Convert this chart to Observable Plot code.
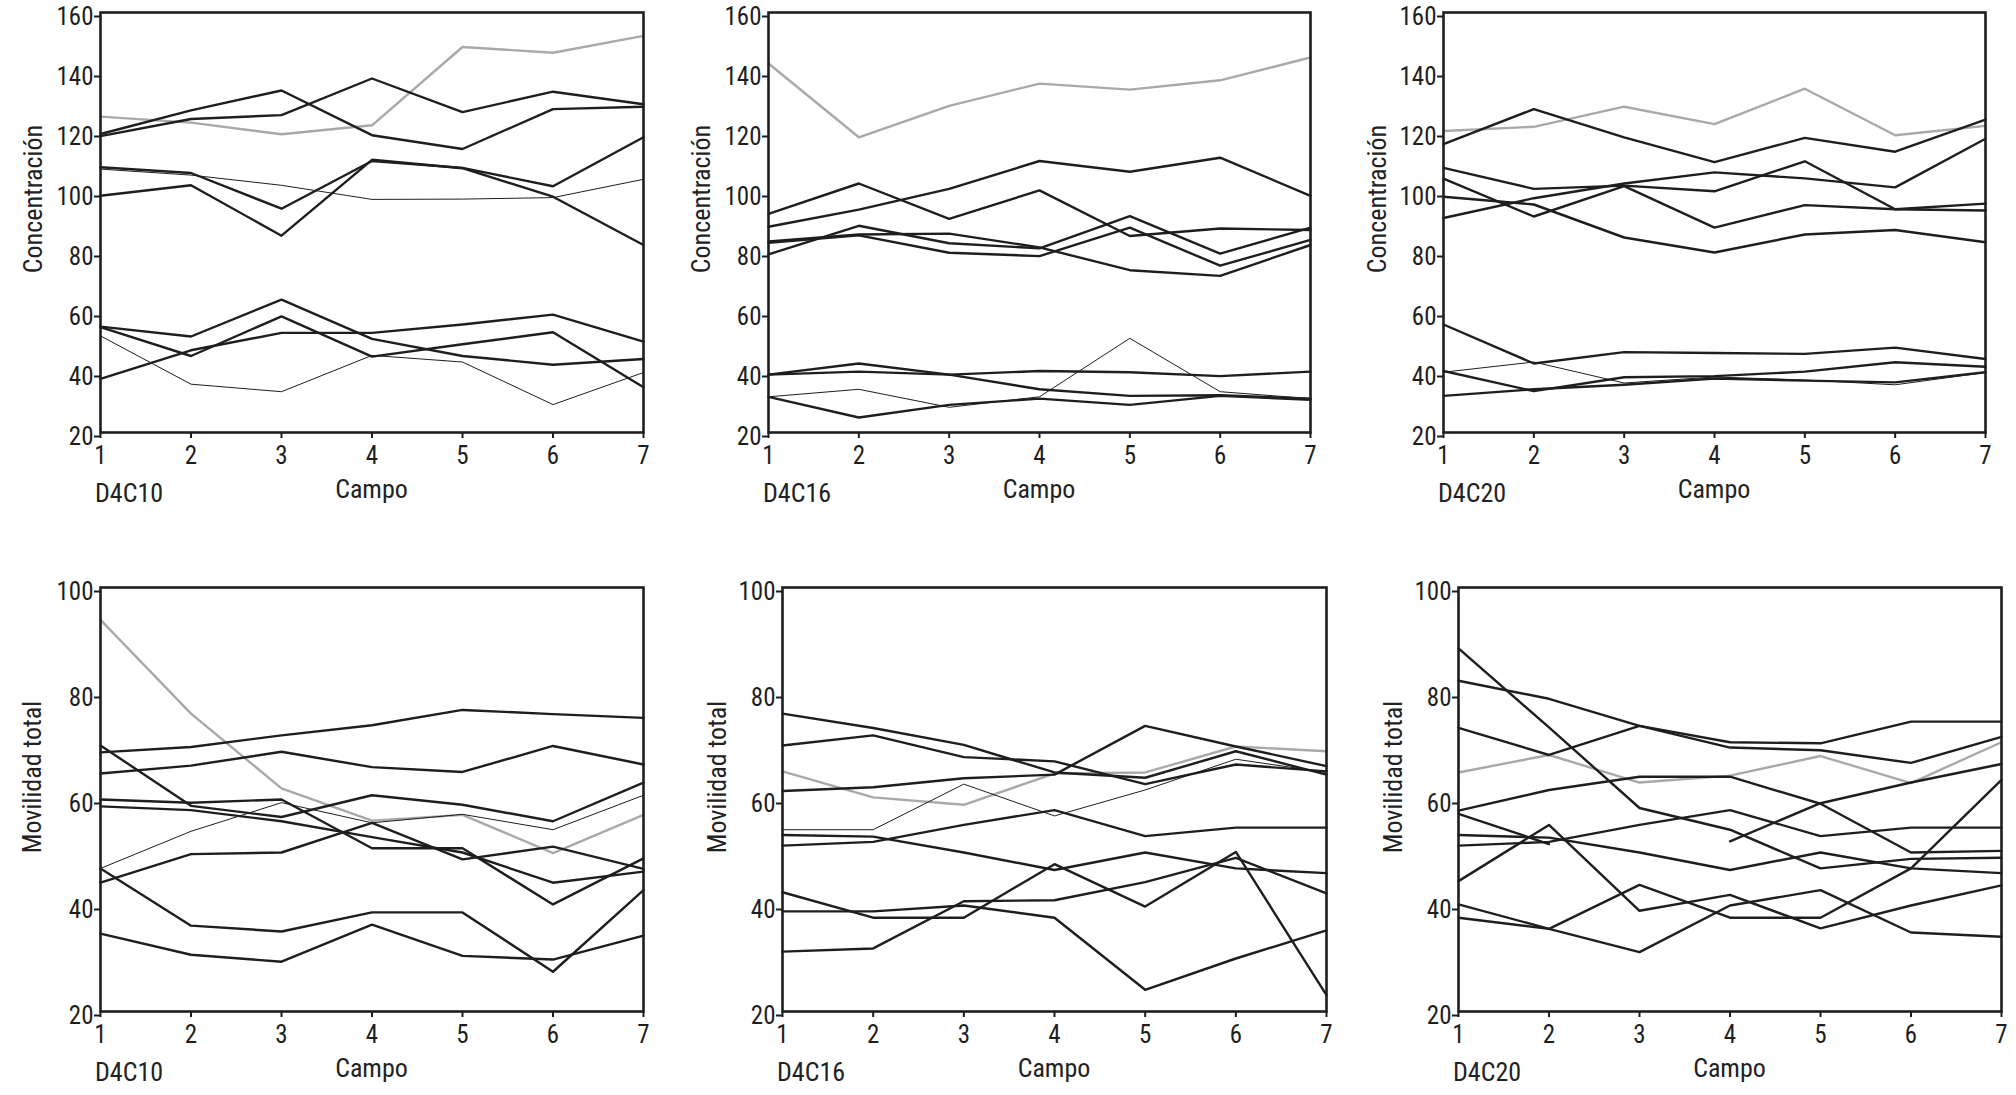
<!DOCTYPE html>
<html>
<head>
<meta charset="utf-8">
<script src="https://cdn.jsdelivr.net/npm/d3@7"></script>
<script src="https://cdn.jsdelivr.net/npm/@observablehq/plot@0.6"></script>
<style>
  html, body { margin: 0; padding: 0; background: #fff; }
  #root { position: relative; width: 2016px; height: 1095px; background: #fff; overflow: hidden;
          font-family: 'Liberation Sans Narrow', 'Roboto Condensed', 'DejaVu Sans Condensed', 'Liberation Sans', sans-serif; color: #222; }
  .lbl { position: absolute; font-size: 26px; white-space: nowrap; line-height: 1; }
</style>
</head>
<body>
<div id="root"></div>
<script>
// ---------- data ----------
const campos = [1, 2, 3, 4, 5, 6, 7];
const concTicks = [20, 40, 60, 80, 100, 120, 140, 160];
const movTicks = [20, 40, 60, 80, 100];
const panelNames = ["D4C10", "D4C16", "D4C20"];

// Concentración D4C10
const conc10Gray = [[125.3, 123.3, 119.4, 122.4, 148.5, 146.6, 152.2]];
const conc10Thin = [
  [107.8, 105.8, 102.4, 97.7, 97.8, 98.3, 104.4],
  [52.2, 36.1, 33.6, 45.7, 43.5, 29.3, 40.0]
];
const conc10Black = [
  [119.5, 127.4, 134.0, 119.1, 114.5, 127.8, 128.6],
  [118.8, 124.5, 125.8, 138.0, 126.8, 133.6, 129.4],
  [108.4, 106.5, 94.6, 110.5, 108.2, 102.1, 118.4],
  [98.9, 102.4, 85.6, 110.9, 108.1, 98.6, 82.5],
  [55.3, 52.0, 64.3, 51.2, 45.5, 42.6, 44.5],
  [55.1, 45.5, 58.7, 45.3, 49.4, 53.4, 35.1],
  [37.9, 47.4, 53.2, 53.2, 56.0, 59.3, 50.3]
];

// Concentración D4C16
const conc16Gray = [[143.0, 118.4, 128.9, 136.3, 134.3, 137.4, 145.0]];
const conc16Thin = [[31.9, 34.4, 28.4, 31.9, 51.4, 33.6, 31.3]];
const conc16Black = [
  [92.9, 103.0, 91.2, 100.7, 85.5, 88.0, 87.5],
  [88.6, 94.3, 101.2, 110.5, 106.9, 111.6, 98.9],
  [83.7, 86.0, 86.3, 81.7, 74.1, 72.2, 82.5],
  [79.4, 88.9, 83.1, 81.4, 92.1, 79.6, 88.3],
  [83.2, 85.7, 79.9, 78.8, 88.3, 75.6, 84.2],
  [39.3, 43.0, 39.3, 34.4, 32.2, 32.4, 31.3],
  [39.3, 40.3, 39.3, 40.5, 40.1, 38.8, 40.3],
  [31.9, 25.0, 29.2, 31.3, 29.2, 32.2, 30.9]
];

// Concentración D4C20
const conc20Gray = [[120.5, 121.9, 128.6, 122.8, 134.6, 119.1, 122.2]];
const conc20Thin = [[40.1, 43.5, 36.5, 38.5, 37.5, 35.9, 40.0]];
const conc20Black = [
  [116.1, 127.8, 118.4, 110.1, 118.2, 113.6, 124.3],
  [108.2, 101.2, 102.3, 100.4, 110.4, 94.4, 94.0],
  [98.6, 96.0, 85.0, 80.0, 86.0, 87.5, 83.4],
  [104.6, 92.0, 102.1, 88.3, 95.8, 94.4, 96.3],
  [91.5, 98.1, 103.0, 106.7, 104.7, 101.7, 117.9],
  [56.0, 43.0, 46.8, 46.5, 46.2, 48.3, 44.5],
  [40.5, 33.8, 38.4, 38.8, 40.3, 43.4, 41.9],
  [32.2, 34.4, 35.9, 38.0, 37.3, 36.7, 40.1]
];

// Movilidad total D4C10
const mov10Gray = [[93.9, 76.2, 62.1, 56.0, 57.1, 49.9, 57.1]];
const mov10Thin = [[47.0, 54.0, 59.4, 55.6, 57.2, 54.3, 60.8]];
const mov10Black = [
  [68.9, 69.9, 72.1, 74.0, 76.9, 76.1, 75.4],
  [64.9, 66.4, 69.0, 66.1, 65.2, 70.1, 66.6],
  [60.0, 59.4, 60.0, 50.8, 50.8, 40.2, 48.9],
  [58.7, 58.0, 55.9, 52.9, 50.0, 44.3, 46.4],
  [70.2, 58.8, 56.7, 60.8, 59.0, 55.9, 63.2],
  [44.3, 49.7, 50.0, 55.6, 48.7, 51.1, 46.9],
  [47.0, 36.2, 35.1, 38.7, 38.7, 27.5, 42.9],
  [34.7, 30.7, 29.4, 36.4, 30.5, 29.8, 34.3]
];

// Movilidad total D4C16
const mov16Gray = [[65.3, 60.4, 59.0, 64.9, 65.1, 70.0, 69.1]];
const mov16Thin = [[54.3, 54.3, 62.9, 56.9, 61.8, 67.6, 65.1]];
const mov16Black = [
  [76.2, 73.5, 70.3, 65.1, 64.1, 69.1, 64.7],
  [70.2, 72.1, 68.0, 67.2, 62.9, 66.6, 65.3],
  [61.6, 62.3, 64.0, 64.7, 73.9, 70.0, 66.3],
  [53.3, 53.0, 50.0, 46.7, 50.0, 47.0, 46.1],
  [51.3, 52.0, 55.2, 58.0, 53.1, 54.7, 54.7],
  [42.5, 37.7, 37.7, 47.8, 39.8, 50.1, 23.1],
  [38.9, 38.9, 40.0, 37.7, 24.1, 30.0, 35.3],
  [31.3, 31.9, 40.8, 41.0, 44.4, 49.0, 42.3]
];

// Movilidad total D4C20
const mov20Gray = [[65.1, 68.4, 63.2, 64.5, 68.2, 63.1, 70.8]];
const mov20Thin = [];
const mov20Black = [
  [88.5, 73.6, 58.4, 54.3, 47.0, 48.8, 49.0],
  [82.4, 79.0, 73.9, 69.8, 69.3, 66.9, 71.8],
  [73.5, 68.4, 73.9, 70.8, 70.6, 74.7, 74.7],
  [57.9, 61.8, 64.3, 64.3, 59.2, 50.0, 50.3],
  [57.3, 51.6, null, 52.1, 59.3, 63.2, 66.7],
  [53.3, 52.8, 50.0, 46.7, 50.0, 47.0, 46.1],
  [51.3, 52.0, 55.2, 58.0, 53.1, 54.7, 54.7],
  [44.6, 55.2, 39.0, 42.0, 35.7, 40.0, 43.8],
  [40.2, 35.6, 31.2, 40.0, 42.9, 34.9, 34.1],
  [37.7, 35.6, 43.9, 37.7, 37.7, 47.0, 63.7]
];

// ---------- drawing ----------
const root = document.getElementById("root");
const ink = "#1e1e1e";
const fontFamily = "'Liberation Sans Narrow', 'Roboto Condensed', 'DejaVu Sans Condensed', 'Liberation Sans', sans-serif";

function rows(seriesList) {
  const out = [];
  seriesList.forEach((s, i) => s.forEach((v, j) => out.push({x: campos[j], y: v, s: i})));
  return out;
}

function label(text, x, y, opts = {}) {
  const d = document.createElement("div");
  d.className = "lbl";
  d.textContent = text;
  d.style.left = x + "px";
  d.style.top = y + "px";
  const tx = opts.anchor === "start" ? "0" : "-50%";
  d.style.transform = `translate(${tx}, -50%)` + (opts.rotate ? ` rotate(${opts.rotate}deg)` : "");
  root.appendChild(d);
}

function panel(box, ydomain, yticks, gray, thin, black, ytitle, name) {
  const mL = 110, mR = 20, mT = 12, mB = 60;
  const width = box.right - box.left + mL + mR;
  const height = box.bottom - box.top + mT + mB;
  const chart = Plot.plot({
    width, height,
    marginLeft: mL, marginRight: mR, marginTop: mT, marginBottom: mB,
    style: {fontFamily, fontSize: "25px", color: ink, background: "transparent", overflow: "visible"},
    x: {domain: [1, 7]},
    y: {domain: ydomain},
    marks: [
      Plot.axisX({ticks: campos, tickFormat: d => String(d), tickSize: 6, tickPadding: 8, label: null, strokeWidth: 2, stroke: ink, fill: ink}),
      Plot.axisY({ticks: yticks, tickFormat: d => String(d), tickSize: 6, tickPadding: 1, dy: 4, label: null, strokeWidth: 2, stroke: ink, fill: ink}),
      Plot.line(rows(gray), {x: "x", y: "y", z: "s", stroke: "#a9a9a9", strokeWidth: 2.4, curve: "linear"}),
      Plot.line(rows(black), {x: "x", y: "y", z: "s", stroke: ink, strokeWidth: 2.4, curve: "linear"}),
      Plot.line(rows(thin), {x: "x", y: "y", z: "s", stroke: ink, strokeWidth: 1, curve: "linear"}),
      Plot.frame({stroke: ink, strokeWidth: 2.6})
    ]
  });
  chart.style.position = "absolute";
  chart.style.left = (box.left - mL) + "px";
  chart.style.top = (box.top - mT) + "px";
  root.appendChild(chart);

  // titles
  label(ytitle, box.titleX, box.titleY, {rotate: -90});
  label("Campo", (box.left + box.right) / 2, box.bottom + 57);
  label(name, box.left - 5, box.bottom + 61, {anchor: "start"});
}

const topBoxes = [
  {left: 100, right: 643, top: 12, bottom: 432, titleX: 33, titleY: 199},
  {left: 768, right: 1310, top: 12, bottom: 432, titleX: 701, titleY: 199},
  {left: 1443, right: 1985, top: 12, bottom: 432, titleX: 1377, titleY: 199}
];
const bottomBoxes = [
  {left: 100, right: 643, top: 587, bottom: 1011, titleX: 32, titleY: 777},
  {left: 782, right: 1326, top: 587, bottom: 1011, titleX: 717, titleY: 777},
  {left: 1458, right: 2001, top: 587, bottom: 1011, titleX: 1393, titleY: 777}
];

const concSets = [[conc10Gray, conc10Thin, conc10Black], [conc16Gray, conc16Thin, conc16Black], [conc20Gray, conc20Thin, conc20Black]];
const movSets = [[mov10Gray, mov10Thin, mov10Black], [mov16Gray, mov16Thin, mov16Black], [mov20Gray, mov20Thin, mov20Black]];

concSets.forEach((set, i) => panel(topBoxes[i], [20, 160], concTicks, set[0], set[1], set[2], "Concentración", panelNames[i]));
movSets.forEach((set, i) => panel(bottomBoxes[i], [20, 100], movTicks, set[0], set[1], set[2], "Movilidad total", panelNames[i]));
</script>
</body>
</html>
